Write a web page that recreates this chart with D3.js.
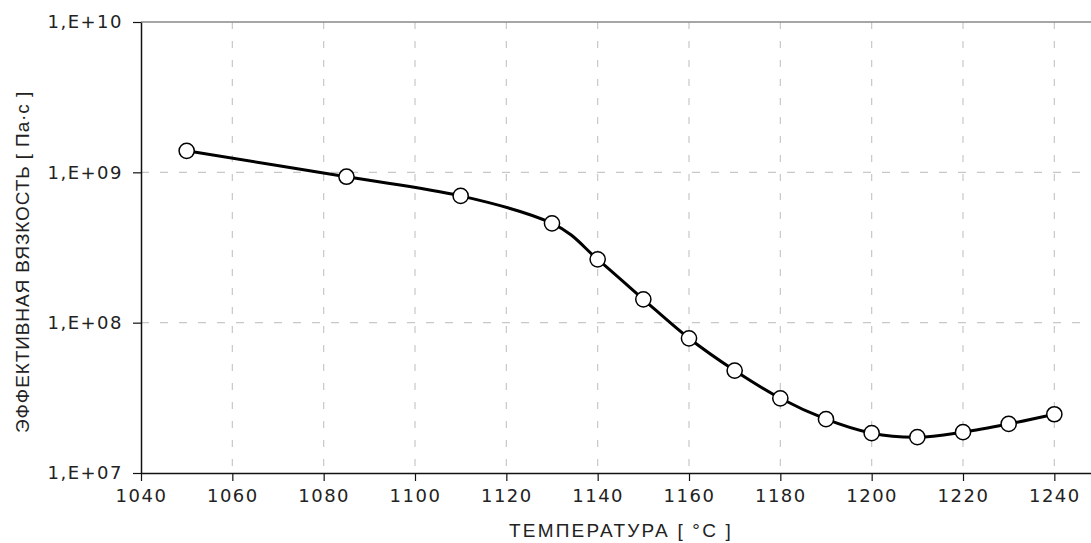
<!DOCTYPE html>
<html>
<head>
<meta charset="utf-8">
<script src="https://cdn.jsdelivr.net/npm/d3@7"></script>
<style>
  body { margin: 0; background: #fff; }
  svg { display: block; }
  .tick-label { font-family: "DejaVu Sans", Verdana, sans-serif; font-size: 18px; letter-spacing: 1.5px; fill: #222; }
  .axis-title { font-family: "Liberation Sans", Arial, sans-serif; font-size: 19px; fill: #222; }
</style>
</head>
<body>
<svg id="chart" width="1091" height="543"></svg>
<script>
// temperature, °C
var temperatures = [1050, 1085, 1110, 1130, 1140, 1150, 1160, 1170, 1180, 1190, 1200, 1210, 1220, 1230, 1240];
// effective viscosity, Pa·s
var viscosity = [1.39e9, 9.35e8, 6.97e8, 4.58e8, 2.64e8, 1.43e8, 7.87e7, 4.80e7, 3.14e7, 2.28e7, 1.84e7, 1.73e7, 1.87e7, 2.12e7, 2.46e7];
var xTicks = [1040, 1060, 1080, 1100, 1120, 1140, 1160, 1180, 1200, 1220, 1240];
var yTicks = [1e7, 1e8, 1e9, 1e10];
var yTickLabels = ["1,E+07", "1,E+08", "1,E+09", "1,E+10"];

var svg = d3.select("#chart");
var plotLeft = 141, plotRight = 1100, plotTop = 22, plotBottom = 473;

var x = d3.scaleLinear().domain([1040, 1250]).range([plotLeft, plotRight]);
var y = d3.scaleLog().domain([1e7, 1e10]).range([plotBottom, plotTop]);

var points = temperatures.map(function (t, i) { return { t: t, v: viscosity[i] }; });

// grid
svg.append("g").selectAll("line")
    .data(xTicks.slice(1))
    .enter().append("line")
    .attr("x1", function (d) { return x(d); })
    .attr("x2", function (d) { return x(d); })
    .attr("y1", plotTop).attr("y2", plotBottom)
    .attr("stroke", "#c8c8c8").attr("stroke-width", 1.2)
    .attr("stroke-dasharray", "7,12");

svg.append("g").selectAll("line")
    .data(yTicks.slice(1, 3))
    .enter().append("line")
    .attr("x1", plotLeft).attr("x2", plotRight)
    .attr("y1", function (d) { return y(d); })
    .attr("y2", function (d) { return y(d); })
    .attr("stroke", "#c8c8c8").attr("stroke-width", 1.2)
    .attr("stroke-dasharray", "8,11");

// top border
svg.append("line")
    .attr("x1", plotLeft).attr("x2", plotRight)
    .attr("y1", plotTop).attr("y2", plotTop)
    .attr("stroke", "#888").attr("stroke-width", 1.5);

// x axis
var xAxis = svg.append("g")
    .attr("transform", "translate(0," + plotBottom + ")")
    .call(d3.axisBottom(x).tickValues(xTicks).tickFormat(d3.format("d"))
        .tickSizeInner(8).tickSizeOuter(0).tickPadding(8));

// y axis
var yAxis = svg.append("g")
    .attr("transform", "translate(" + plotLeft + ",0)")
    .call(d3.axisLeft(y).tickValues(yTicks)
        .tickFormat(function (d, i) { return yTickLabels[i]; })
        .tickSizeInner(8).tickSizeOuter(0).tickPadding(10));

[xAxis, yAxis].forEach(function (ax) {
    ax.attr("font-family", null).attr("font-size", null);
    ax.select(".domain").attr("stroke", "#111").attr("stroke-width", 1.5);
    ax.selectAll(".tick line").attr("stroke", "#111").attr("stroke-width", 1.2);
    ax.selectAll(".tick text").attr("class", "tick-label").attr("fill", null);
});

// titles
svg.append("text")
    .attr("class", "axis-title")
    .attr("x", 621).attr("y", 537)
    .attr("text-anchor", "middle")
    .style("letter-spacing", "2.2px")
    .text("ТЕМПЕРАТУРА [ °С ]");

svg.append("text")
    .attr("class", "axis-title")
    .attr("transform", "translate(29,262) rotate(-90)")
    .attr("text-anchor", "middle")
    .style("letter-spacing", "0.9px")
    .text("ЭФФЕКТИВНАЯ ВЯЗКОСТЬ [ Па·с ]");

// smoothed line
var line = d3.line()
    .x(function (d) { return x(d.t); })
    .y(function (d) { return y(d.v); })
    .curve(d3.curveCatmullRom.alpha(0));

svg.append("path")
    .datum(points)
    .attr("d", line)
    .attr("fill", "none")
    .attr("stroke", "#000")
    .attr("stroke-width", 3);

svg.append("g").selectAll("circle")
    .data(points)
    .enter().append("circle")
    .attr("cx", function (d) { return x(d.t); })
    .attr("cy", function (d) { return y(d.v); })
    .attr("r", 7.6)
    .attr("fill", "#fff")
    .attr("stroke", "#000")
    .attr("stroke-width", 1.5);
</script>
</body>
</html>
